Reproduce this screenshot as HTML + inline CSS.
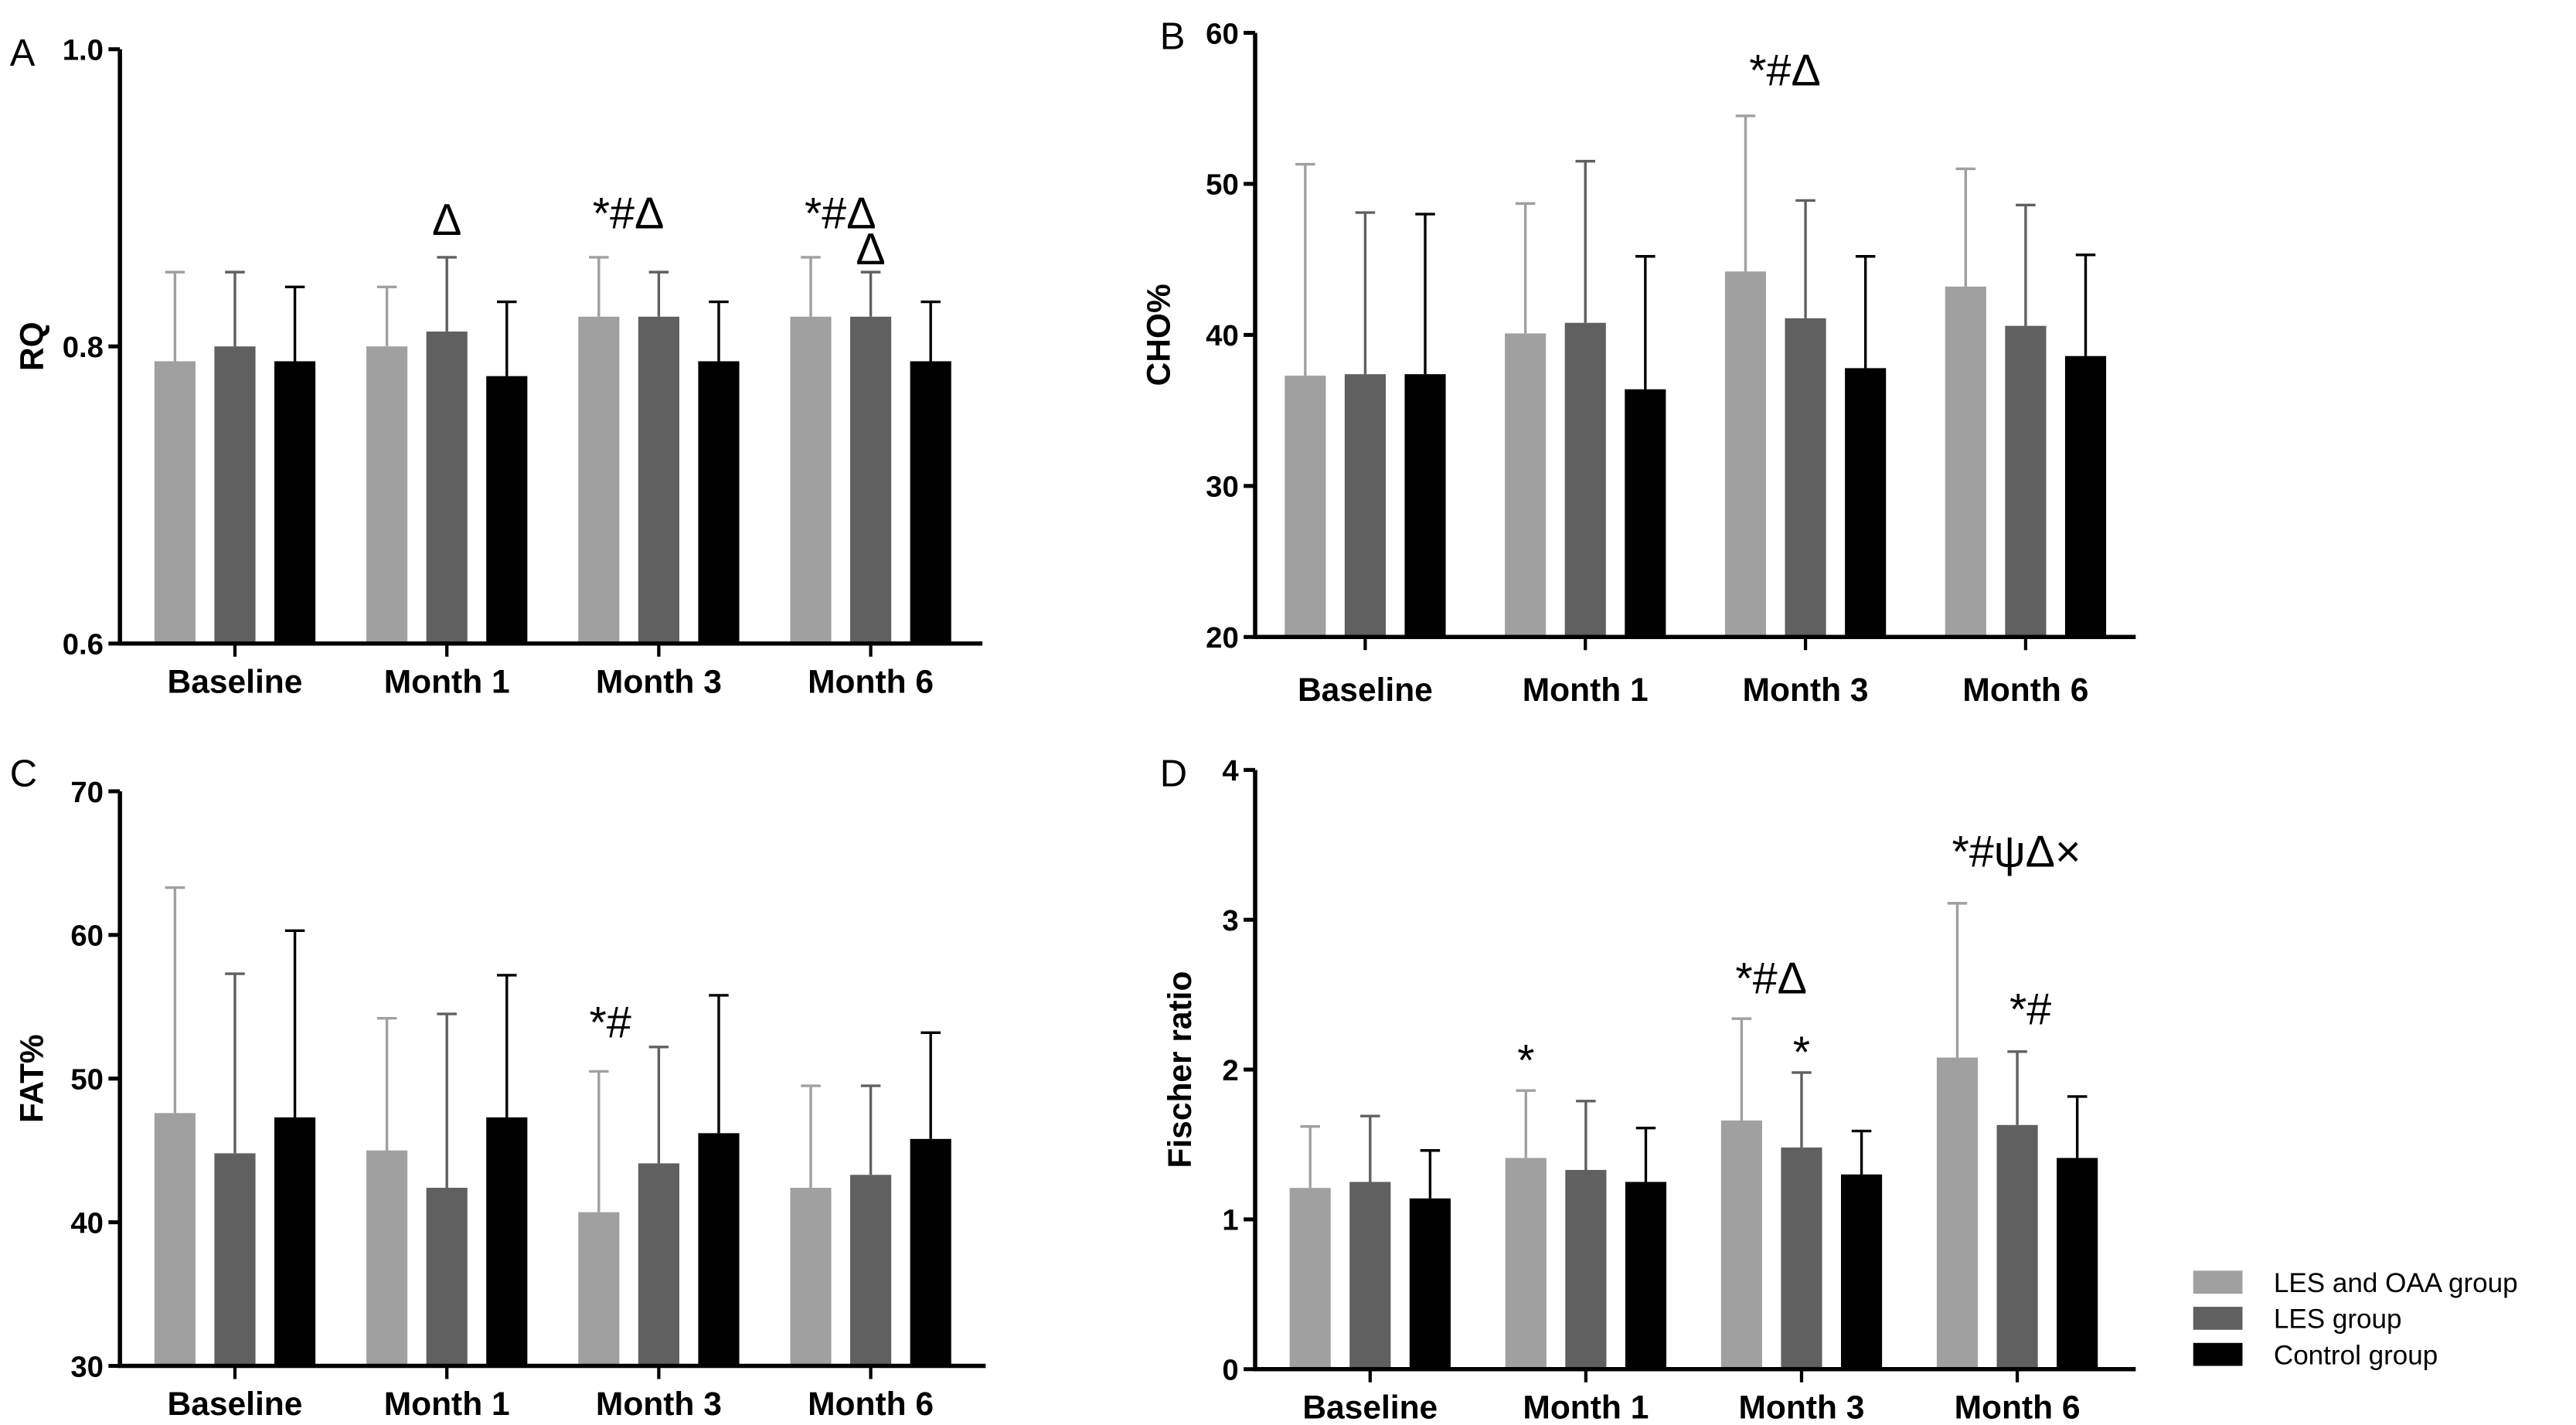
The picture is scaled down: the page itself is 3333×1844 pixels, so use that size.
<!DOCTYPE html>
<html><head><meta charset="utf-8"><style>
html,body{margin:0;padding:0;background:#fff}
svg{display:block}
text{font-family:"Liberation Sans",Arial,sans-serif}
</style></head><body>
<svg id="chart" width="3333" height="1844" viewBox="0 0 1568 868" preserveAspectRatio="none" xmlns="http://www.w3.org/2000/svg"></svg>
<script>
const categories = ["Baseline","Month 1","Month 3","Month 6"];
const seriesNames = ["LES and OAA group","LES group","Control group"];
const seriesColors = ["#a0a0a0","#606060","#000000"];

const rqMeans = [[0.79,0.80,0.79],[0.80,0.81,0.78],[0.82,0.82,0.79],[0.82,0.82,0.79]];
const rqTops  = [[0.85,0.85,0.84],[0.84,0.86,0.83],[0.86,0.85,0.83],[0.86,0.85,0.83]];
const rqTicks = [0.6,0.8,1.0];
const rqTickLabels = ["0.6","0.8","1.0"];

const choMeans = [[37.3,37.4,37.4],[40.1,40.8,36.4],[44.2,41.1,37.8],[43.2,40.6,38.6]];
const choTops  = [[51.3,48.1,48.0],[48.7,51.5,45.2],[54.5,48.9,45.2],[51.0,48.6,45.3]];
const choTicks = [20,30,40,50,60];
const choTickLabels = ["20","30","40","50","60"];

const fatMeans = [[47.6,44.8,47.3],[45.0,42.4,47.3],[40.7,44.1,46.2],[42.4,43.3,45.8]];
const fatTops  = [[63.3,57.3,60.3],[54.2,54.5,57.2],[50.5,52.2,55.8],[49.5,49.5,53.2]];
const fatTicks = [30,40,50,60,70];
const fatTickLabels = ["30","40","50","60","70"];

const fisMeans = [[1.21,1.25,1.14],[1.41,1.33,1.25],[1.66,1.48,1.30],[2.08,1.63,1.41]];
const fisTops  = [[1.62,1.69,1.46],[1.86,1.79,1.61],[2.34,1.98,1.59],[3.11,2.12,1.82]];
const fisTicks = [0,1,2,3,4];
const fisTickLabels = ["0","1","2","3","4"];

const NS="http://www.w3.org/2000/svg";
const svg=document.getElementById('chart');
function mk(tag,attrs,parent,txt){const e=document.createElementNS(NS,tag);for(const k in attrs)e.setAttribute(k,attrs[k]);if(txt!==undefined)e.textContent=txt;(parent||svg).appendChild(e);return e;}

function panel(cfg){
  const g=mk('g',{});
  
  
  const yy=v=>cfg.y0-(v-cfg.ticks[0])/(cfg.ticks[cfg.ticks.length-1]-cfg.ticks[0])*(cfg.y0-cfg.y1);
  const cx=i=>cfg.c0+i*cfg.step;
  const bw=25, off=36.5;
  categories.forEach((c,i)=>{
    for(let s=0;s<3;s++){
      const x=cx(i)+(s-1)*off;
      const m=cfg.means[i][s], t=cfg.tops[i][s];
      const b=mk('rect',{x:x-bw/2,y:yy(m),width:bw,height:cfg.y0-yy(m),fill:seriesColors[s]},g);
      
      
      const e=mk('path',{d:`M${x},${yy(m)}V${yy(t)}M${x-6},${yy(t)}H${x+6}`,stroke:seriesColors[s],'stroke-width':1.6,fill:'none'},g);
      
      
    }
    mk('line',{x1:cx(i),x2:cx(i),y1:cfg.y0,y2:cfg.y0+8,stroke:'#000','stroke-width':2},g);
    const lb=mk('text',{x:cx(i),y:cfg.y0+cfg.ldy,'text-anchor':'middle','font-size':20,'font-weight':'bold'},g,c);
    
    
  });
  const ax=mk('path',{d:`M${cfg.ax},${cfg.y1}V${cfg.y0}H${cfg.xend}`,stroke:'#000','stroke-width':2.6,fill:'none'},g);
  
  
  cfg.ticks.forEach((v,k)=>{
    mk('line',{x1:cfg.ax-7,x2:cfg.ax,y1:yy(v),y2:yy(v),stroke:'#000','stroke-width':2.4},g);
    const t=mk('text',{x:cfg.ax-10,y:yy(v)+6.5,'text-anchor':'end','font-size':18,'font-weight':'bold'},g,cfg.labels[k]);
    
    
  });
  const yt=mk('text',{x:0,y:0,transform:`translate(${cfg.tx},${(cfg.y0+cfg.y1)/2}) rotate(-90)`,'text-anchor':'middle','font-size':20,'font-weight':'bold'},g,cfg.title);
  
  
  const L=mk('text',{x:cfg.lx,y:cfg.ly,'font-size':23},g,cfg.letter);
  
  
  cfg.ann.forEach(a=>{
    const t=mk('text',{x:cx(a[0])+(a[1]-1)*off+(a[3]||0),y:a[4],'text-anchor':'middle','font-size':27,'font-family':'"Liberation Serif",serif'},g,a[2]);
    
    
  });
}

panel({id:'a',letter:'A',lx:6,ly:40,title:'RQ',tx:26,ax:73,y0:392,y1:30,xend:598,c0:143,step:129,ldy:30,
  ticks:rqTicks,labels:rqTickLabels,means:rqMeans,tops:rqTops,
  ann:[[1,1,'Δ',0,143],[2,0,'*#Δ',18,139],[3,0,'*#Δ',18,139],[3,1,'Δ',0,161]]});
panel({id:'b',letter:'B',lx:706,ly:30,title:'CHO%',tx:712,ax:764,y0:388,y1:20,xend:1300,c0:831,step:134,ldy:39,
  ticks:choTicks,labels:choTickLabels,means:choMeans,tops:choTops,
  ann:[[2,0,'*#Δ',24,52]]});
panel({id:'c',letter:'C',lx:6,ly:479,title:'FAT%',tx:26,ax:73,y0:832,y1:482,xend:600,c0:143,step:129,ldy:30,
  ticks:fatTicks,labels:fatTickLabels,means:fatMeans,tops:fatTops,
  ann:[[2,0,'*#',7,632]]});
panel({id:'d',letter:'D',lx:706,ly:479,title:'Fischer ratio',tx:725,ax:764,y0:834,y1:469,xend:1300,c0:834,step:131.3,ldy:30,
  ticks:fisTicks,labels:fisTickLabels,means:fisMeans,tops:fisTops,
  ann:[[1,0,'*',0,655],[2,0,'*#Δ',18,605],[2,1,'*',0,650],[3,0,'*#ψΔ×',36,528],[3,1,'*#',8,624]]});

const lg=mk('g',{});


seriesNames.forEach((n,s)=>{
  const yy=781+s*22;
  mk('rect',{x:1335,y:yy-7,width:30,height:14,fill:seriesColors[s]},lg);
  const t=mk('text',{x:1384,y:yy+6,'font-size':16.5},lg,n);
  
  
});
</script>
</body></html>
